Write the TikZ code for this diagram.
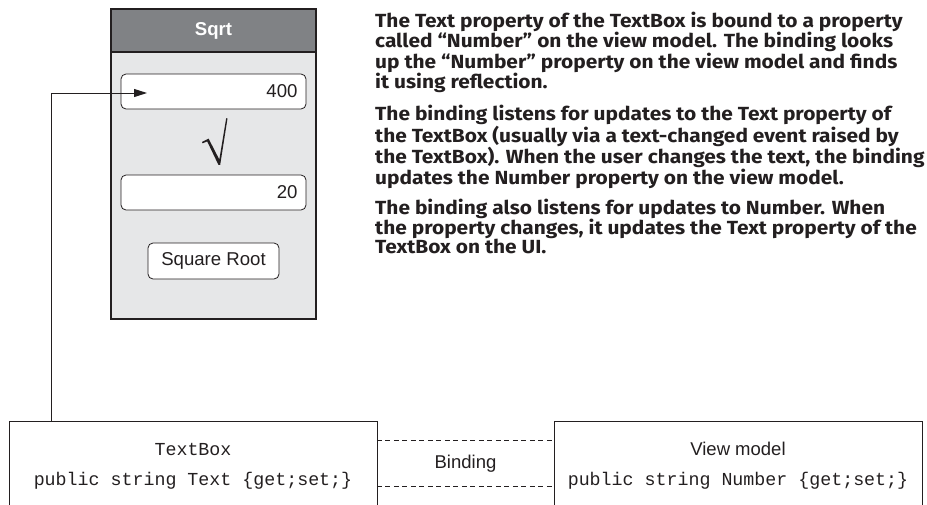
\documentclass[tikz,border=0pt]{standalone}
\usepackage{fontspec}
\setmainfont{Liberation Sans}
\newfontfamily\parafont[FakeStretch=1.1]{Fira Sans}
\newfontfamily\codefont{Liberation Mono}
\usetikzlibrary{arrows.meta}
\definecolor{ink}{HTML}{231F20}
\definecolor{hdrgray}{HTML}{808285}
\definecolor{winbody}{HTML}{E6E7E8}
\tikzset{
  uifont/.style={font=\fontsize{18.6}{22}\selectfont},
  window/.style={draw=ink, line width=1.2pt, fill=winbody, minimum width=205pt, minimum height=310pt, inner sep=0pt},
  header/.style={draw=ink, line width=1.2pt, fill=hdrgray, minimum width=205pt, minimum height=43pt, inner sep=0pt, text=white, font=\bfseries\fontsize{18.6}{22}\selectfont},
  field/.style={draw=ink, line width=0.8pt, fill=white, rounded corners=5pt, minimum height=35pt, text width=168pt, inner xsep=8.5pt, inner ysep=0pt, align=right, uifont, text=ink},
  btnbox/.style={draw=ink, line width=0.8pt, fill=white, rounded corners=5pt, minimum width=131pt, minimum height=36pt, inner sep=0pt, uifont, text=ink},
  codebox/.style={draw=ink, line width=0.9pt, minimum width=368pt, minimum height=90pt, inner sep=0pt, align=center, text=ink, font=\codefont\fontsize{18.3}{30}\selectfont},
  bindbox/.style={minimum width=177pt, minimum height=45pt, inner sep=0pt, text=ink, font=\fontsize{18.5}{22}\selectfont},
  dashline/.style={draw=ink, line width=0.9pt, dash pattern=on 5pt off 3.5pt},
  conn/.style={draw=ink, line width=1pt, -{Triangle[length=13pt,width=8pt]}},
  para/.style={anchor=north west, inner sep=0pt, align=left, text=ink, font=\parafont\bfseries\fontsize{19}{18.7}\selectfont}
}
\begin{document}
\begin{tikzpicture}[x=1pt,y=-1pt]
\useasboundingbox (0,0) rectangle (927,504);
\fill[white] (0,0) rectangle (927,504);
% window
\node[window] (win) at (213.5,164) {};
\node[header] (hdr) at (213.5,30.5) {Sqrt};
\node[field] (in) at (213.5,91.5) {400};
\node[field] (out) at (213.5,192.5) {20};
\node[btnbox] (btn) at (213.5,261) {Square Root};
% radical sign
\fill[ink] (202,142) -- (208.6,138.6) -- (219.3,159.5) -- (226.2,118.2) -- (227.5,118.5) -- (220.2,164.8) -- (218.4,164.8) -- (207.2,141.4) -- (202.6,143.3) -- cycle;
% bottom boxes
\node[codebox] (tb) at (193,466) {TextBox\\public string Text \{get;set;\}};
\node[codebox] (vm) at (738,466) {{\rmfamily\fontsize{18.5}{30}\selectfont View model}\\public string Number \{get;set;\}};
\node[bindbox] (bind) at (465.5,463.5) {Binding};
\draw[dashline] (bind.north west) -- (bind.north east);
\draw[dashline] (bind.south west) -- (bind.south east);
% arrow
\coordinate (tip) at (147,93);
\draw[conn] (tb.north west) ++(43,0) |- (tip);
% paragraphs
\node[para] (p1) at (375,11.4) {The Text property of the TextBox is bound to a property\\called “Number” on the view model. The binding looks\\up the “Number” property on the view model and finds\\it using reflection.};
\node[para] (p2) at (375,104.9) {The binding listens for updates to the Text property of\\the TextBox (usually via a text-changed event raised by\\the TextBox). When the user changes the text, the binding\\updates the Number property on the view model.};
\node[para] (p3) at (375,198.4) {The binding also listens for updates to Number. When\\the property changes, it updates the Text property of the\\TextBox on the UI.};
\end{tikzpicture}
\end{document}
